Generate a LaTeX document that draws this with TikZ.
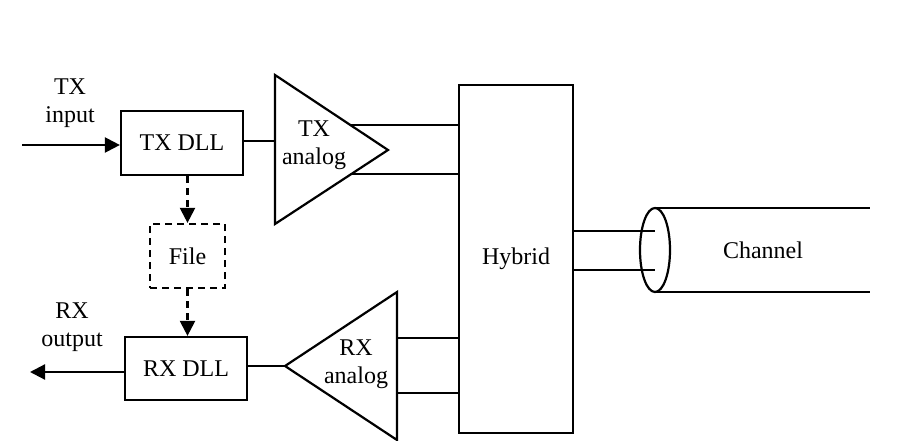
\documentclass[tikz,border=0pt]{standalone}
\usepackage{fontspec}
\setmainfont{Liberation Serif}
\usetikzlibrary{arrows.meta,calc}
\begin{document}
\begin{tikzpicture}[x=1pt,y=-1pt,
  every node/.style={font=\fontsize{24}{28}\selectfont},
  wire/.style={line width=2.2pt},
  blk/.style={draw,line width=2.2pt,inner sep=0pt},
  dsh/.style={dash pattern=on 7pt off 5pt},
  arr/.style={-{Triangle[length=15pt,width=15pt]}},
  lbl/.style={align=center,inner sep=0pt}]
\useasboundingbox (0,0) rectangle (897,441);
% blocks
\node[blk,minimum width=122pt,minimum height=64pt] (txdll) at (182,143) {TX DLL};
\node[blk,dsh,minimum width=75pt,minimum height=64pt] (file) at (187.5,256) {File};
\node[blk,minimum width=122pt,minimum height=63pt] (rxdll) at (186,368.5) {RX DLL};
\node[blk,minimum width=114pt,minimum height=348pt] (hyb) at (516,259) {Hybrid};
% triangles
\coordinate (txa1) at (275,75);
\coordinate (txa2) at (275,224);
\coordinate (txtip) at (388,150);
\draw[wire,line join=miter] (txa1) -- (txtip) -- (txa2) -- cycle;
\node[lbl] (txlab) at (314,145) {TX\\analog};
\coordinate (rxa1) at (397,292);
\coordinate (rxa2) at (397,440);
\coordinate (rxtip) at (285,366);
\draw[wire,line join=miter] (rxa1) -- (rxtip) -- (rxa2) -- cycle;
\node[lbl] (rxlab) at (356,364) {RX\\analog};
% channel
\coordinate (chc) at (655,250);
\draw[wire] (chc) ellipse [x radius=15pt, y radius=42pt];
\coordinate (chtop) at (655,208);
\coordinate (chbot) at (655,292);
\coordinate (chtopE) at (870,208);
\coordinate (chbotE) at (870,292);
\draw[wire] (chtop) -- (chtopE);
\draw[wire] (chbot) -- (chbotE);
\node (chan) at (763,250) {Channel};
% labels
\node[lbl] (txin) at (70,103) {TX\\input};
\node[lbl] (rxout) at (72,327) {RX\\output};
% connectors
\coordinate (inS) at (22,145);
\draw[wire,arr] (inS) -- (txdll.west |- inS);
\draw[wire] (txdll.east |- 0,141) -- (275,141);
\coordinate (t1) at ($(txa1)!{50/75}!(txtip)$);
\coordinate (t2) at ($(txa2)!{50/74}!(txtip)$);
\draw[wire] (t1) -- (hyb.west |- t1);
\draw[wire] (t2) -- (hyb.west |- t2);
\draw[wire] (rxa1 |- 0,338) -- (hyb.west |- 0,338);
\draw[wire] (rxa1 |- 0,393) -- (hyb.west |- 0,393);
\draw[wire] (rxtip) -- (rxdll.east |- rxtip);
\coordinate (outE) at (30,372);
\draw[wire,arr] (rxdll.west |- outE) -- (outE);
\draw[wire] (hyb.east |- 0,231) -- (chc |- 0,231);
\draw[wire] (hyb.east |- 0,270) -- (chc |- 0,270);
\draw[wire,dsh,arr] (txdll.south -| file.north) -- (file.north);
\draw[wire,dsh,arr] (file.south) -- (rxdll.north -| file.south);
\end{tikzpicture}
\end{document}
